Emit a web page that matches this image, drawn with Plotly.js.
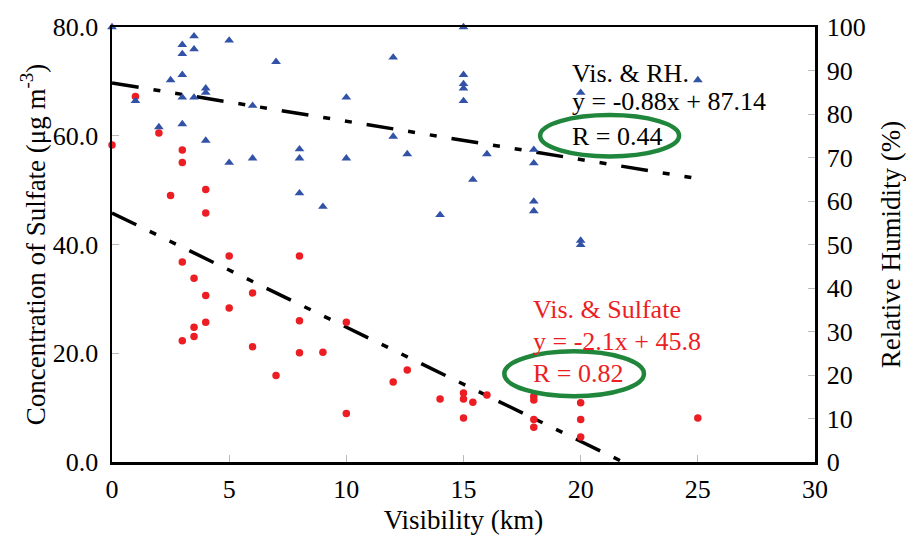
<!DOCTYPE html>
<html>
<head>
<meta charset="utf-8">
<script src="https://cdn.plot.ly/plotly-3.0.1.min.js"></script>
<style>html,body{margin:0;padding:0;background:#fff;}#chart{width:906px;height:542px;}</style>
</head>
<body>
<div id="chart"></div>
<script>
// Visibility (km) vs Sulfate (ug m-3)
var sulfateVis = [0, 1, 2, 2.5, 3, 3, 4, 4, 3, 3.5, 4, 5, 8, 6, 5, 8, 10, 4, 3.5, 3.5, 3, 6, 8, 9, 7, 10, 12.6, 12, 14, 15, 15, 15.4, 16, 15, 18, 18, 18, 18, 20, 20, 20, 25];
var sulfateVal = [58.3, 67.2, 60.5, 49.0, 57.4, 55.1, 50.1, 45.8, 36.8, 33.8, 30.6, 37.9, 37.9, 31.1, 28.3, 26.0, 25.7, 25.7, 24.8, 23.1, 22.3, 21.2, 20.1, 20.2, 15.9, 8.9, 16.9, 14.7, 11.6, 12.7, 11.6, 11.0, 12.3, 8.1, 12.1, 11.4, 7.8, 6.4, 10.9, 7.8, 4.6, 8.1];
// Visibility (km) vs Relative Humidity (%)
var rhVis = [0, 3.5, 3, 5, 3.5, 3, 7, 2.5, 3, 4, 4, 3, 3.5, 1, 6, 10, 2, 3, 4, 5, 6, 8, 8, 10, 8, 9, 15, 12, 15, 15, 15, 15, 25, 20, 12, 12.6, 16, 18, 18, 15.4, 18, 18, 14, 20, 20];
var rhVal = [100, 97.9, 95.9, 96.9, 94.9, 93.8, 92, 87.8, 89, 85.9, 84.9, 83.8, 83.8, 83, 81.9, 83.8, 77, 77.7, 73.9, 68.8, 69.8, 71.9, 69.8, 69.8, 61.8, 58.7, 100, 93, 89, 86.9, 85.9, 83, 87.8, 84.9, 74.8, 70.8, 70.8, 71.8, 68.7, 64.9, 59.9, 57.7, 56.8, 50.9, 49.9];
// regression fits
var sulfateFit = {slope: -2.1, intercept: 45.8, label: 'Vis. & Sulfate', eq: 'y = -2.1x + 45.8', r: 'R = 0.82'};
var rhFit = {slope: -0.88, intercept: 87.14, label: 'Vis. & RH.', eq: 'y = -0.88x + 87.14', r: 'R = 0.44'};
var xTicks = [0, 5, 10, 15, 20, 25, 30];

var sulfEnd = -sulfateFit.intercept / sulfateFit.slope;
var rhEnd = 25;
var dashPat = '27px,15px,7px,15px,7px,15px';
var FONT = "'Liberation Serif', 'Times New Roman', Times, serif";
var BLUE = 'rgb(50,82,168)';
var RED = 'rgb(236,30,36)';
var GREEN = 'rgb(32,134,60)';

var traces = [
  {x: [0, sulfEnd], y: [sulfateFit.intercept, sulfateFit.intercept + sulfateFit.slope * sulfEnd],
   mode: 'lines', line: {color: '#000', width: 3.5, dash: dashPat}, hoverinfo: 'skip', showlegend: false},
  {x: [0, rhEnd], y: [rhFit.intercept, rhFit.intercept + rhFit.slope * rhEnd], yaxis: 'y2',
   mode: 'lines', line: {color: '#000', width: 3.5, dash: dashPat}, hoverinfo: 'skip', showlegend: false},
  {x: sulfateVis, y: sulfateVal, mode: 'markers', type: 'scatter',
   marker: {color: RED, size: 7.5, symbol: 'circle'}, showlegend: false, cliponaxis: false},
  {x: rhVis, y: rhVal, yaxis: 'y2', mode: 'markers', type: 'scatter',
   marker: {color: BLUE, size: 8.5, symbol: 'triangle-up'}, showlegend: false, cliponaxis: false}
];

var FS = 26;
var annFont = {family: FONT, size: FS, color: '#000'};
var annRed = {family: FONT, size: FS, color: RED};
var layout = {
  width: 906, height: 542,
  margin: {l: 112, r: 91, t: 27, b: 80},
  paper_bgcolor: '#fff', plot_bgcolor: '#fff',
  font: {family: FONT, color: '#000', size: FS},
  showlegend: false,
  xaxis: {
    range: [0, 30], tickvals: xTicks, ticktext: xTicks.map(String),
    showline: true, linecolor: '#000', linewidth: 2.5, mirror: true,
    ticks: 'inside', ticklen: 7, tickcolor: '#bbb', tickwidth: 1,
    showgrid: false, zeroline: false, ticklabelstandoff: 2,
    tickfont: {family: FONT, size: FS},
    title: {text: 'Visibility (km)', font: {family: FONT, size: 27}, standoff: 8}
  },
  yaxis: {
    range: [0, 80], dtick: 20, tickformat: '.1f',
    showline: true, linecolor: '#000', linewidth: 2.5,
    ticks: 'inside', ticklen: 7, tickcolor: '#bbb', tickwidth: 1,
    showgrid: false, zeroline: false, ticklabelstandoff: 6,
    tickfont: {family: FONT, size: FS},
    title: {text: 'Concentration of Sulfate (μg m<sup>-3</sup>)', font: {family: FONT, size: 27}, standoff: 0}
  },
  yaxis2: {
    range: [0, 100], dtick: 10, overlaying: 'y', side: 'right',
    showline: true, linecolor: '#000', linewidth: 2.5,
    ticks: 'inside', ticklen: 7, tickcolor: '#bbb', tickwidth: 1,
    showgrid: false, zeroline: false, ticklabelstandoff: 4,
    tickfont: {family: FONT, size: FS},
    title: {text: 'Relative Humidity (%)', font: {family: FONT, size: 27}, standoff: 18}
  },
  shapes: [
    {type: 'circle', xref: 'x', yref: 'y', x0: 18.27, x1: 24.2, y0: 56.2, y1: 63.8,
     line: {color: GREEN, width: 4.5}},
    {type: 'circle', xref: 'x', yref: 'y', x0: 16.74, x1: 22.7, y0: 12.1, y1: 20.35,
     line: {color: GREEN, width: 4.5}}
  ],
  annotations: [
    {x: 19.55, y: 71.5, xref: 'x', yref: 'y', text: rhFit.label, showarrow: false, xanchor: 'left', yanchor: 'middle', font: annFont},
    {x: 19.55, y: 66.3, xref: 'x', yref: 'y', text: rhFit.eq, showarrow: false, xanchor: 'left', yanchor: 'middle', font: annFont},
    {x: 19.55, y: 59.8, xref: 'x', yref: 'y', text: rhFit.r, showarrow: false, xanchor: 'left', yanchor: 'middle', font: annFont},
    {x: 17.88, y: 28.1, xref: 'x', yref: 'y', text: sulfateFit.label, showarrow: false, xanchor: 'left', yanchor: 'middle', font: annRed},
    {x: 17.88, y: 22.2, xref: 'x', yref: 'y', text: sulfateFit.eq, showarrow: false, xanchor: 'left', yanchor: 'middle', font: annRed},
    {x: 17.88, y: 16.3, xref: 'x', yref: 'y', text: sulfateFit.r, showarrow: false, xanchor: 'left', yanchor: 'middle', font: annRed}
  ]
};

Plotly.newPlot('chart', traces, layout, {displayModeBar: false, staticPlot: true});
</script>
</body>
</html>
